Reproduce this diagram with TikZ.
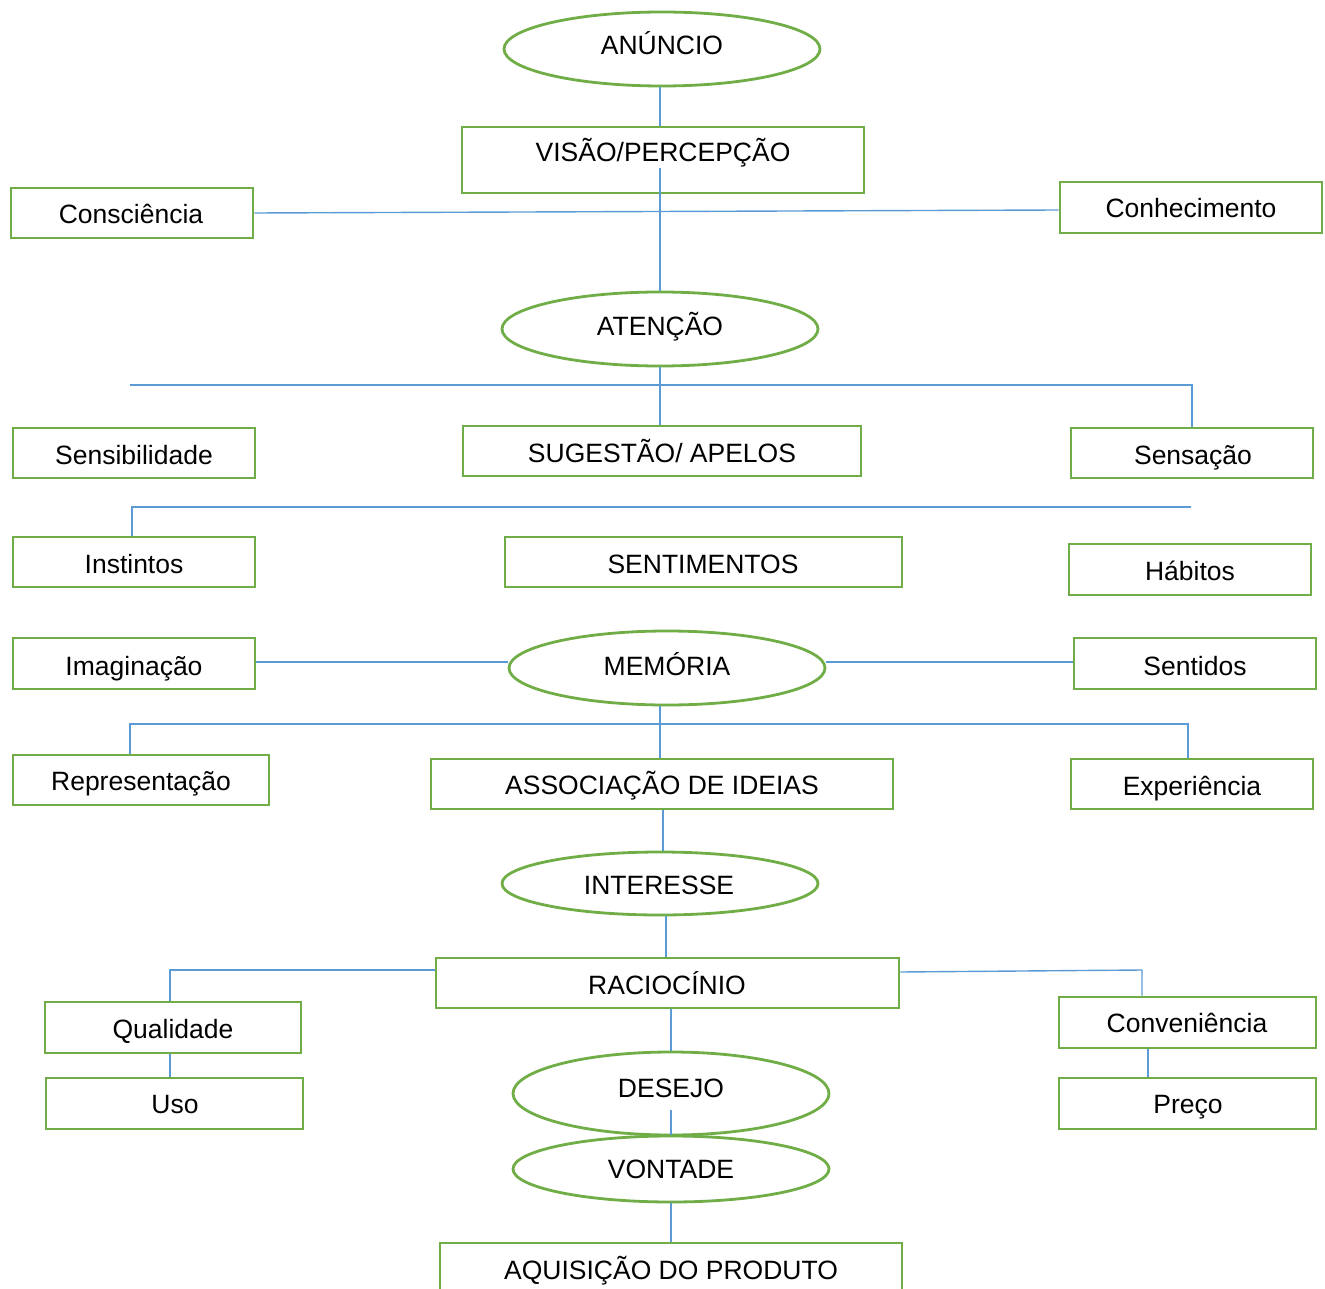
\documentclass[tikz,border=0pt]{standalone}
\usepackage{fontspec}
\setmainfont{Liberation Sans}
\usetikzlibrary{shapes.geometric}
\definecolor{gborder}{HTML}{70AD47}
\definecolor{bline}{HTML}{5B9BD5}
\tikzset{
  gbox/.style={draw=gborder, line width=2.8pt, rectangle, inner sep=0pt, fill=white},
  gell/.style={draw=gborder, line width=2.8pt, ellipse, inner sep=0pt, fill=white},
  lbl/.style={anchor=base, inner sep=0pt, font=\fontsize{26.5}{30}\selectfont},
  conn/.style={draw=bline, line width=1.4pt}
}
\begin{document}
\begin{tikzpicture}[x=1pt,y=-1pt]
\useasboundingbox (0,0) rectangle (1325,1289);
\clip (0,0) rectangle (1325,1289);
% shapes
\node[gell, minimum width=316, minimum height=74] (anuncio) at (662,49) {};
\node[gbox, minimum width=402, minimum height=66] (visao) at (663,160) {};
\node[gbox, minimum width=242, minimum height=50] (consc) at (132,213) {};
\node[gbox, minimum width=262, minimum height=51] (conhec) at (1191,207.5) {};
\node[gell, minimum width=316, minimum height=74] (atencao) at (660,329) {};
\node[gbox, minimum width=242, minimum height=50] (sensib) at (134,453) {};
\node[gbox, minimum width=398, minimum height=50] (sugestao) at (662,451) {};
\node[gbox, minimum width=242, minimum height=50] (sensacao) at (1192,453) {};
\node[gbox, minimum width=242, minimum height=50] (instintos) at (134,562) {};
\node[gbox, minimum width=397, minimum height=50] (sentimentos) at (703.5,562) {};
\node[gbox, minimum width=242, minimum height=51] (habitos) at (1190,569.5) {};
\node[gbox, minimum width=242, minimum height=51] (imaginacao) at (134,663.5) {};
\node[gell, minimum width=316, minimum height=74] (memoria) at (667,668) {};
\node[gbox, minimum width=242, minimum height=51] (sentidos) at (1195,663.5) {};
\node[gbox, minimum width=256, minimum height=50] (repres) at (141,780) {};
\node[gbox, minimum width=462, minimum height=50] (assoc) at (662,784) {};
\node[gbox, minimum width=242, minimum height=50] (exper) at (1192,784) {};
\node[gell, minimum width=316, minimum height=63] (interesse) at (660,883.5) {};
\node[gbox, minimum width=463, minimum height=50] (racioc) at (667.5,983) {};
\node[gbox, minimum width=256, minimum height=51] (qualid) at (173,1027.5) {};
\node[gbox, minimum width=257, minimum height=51] (uso) at (174.5,1103.5) {};
\node[gbox, minimum width=257, minimum height=51] (conven) at (1187.5,1022.5) {};
\node[gbox, minimum width=257, minimum height=51] (preco) at (1187.5,1103.5) {};
\node[gell, minimum width=316, minimum height=83] (desejo) at (671,1093.5) {};
\node[gell, minimum width=316, minimum height=66] (vontade) at (671,1169) {};
\node[gbox, minimum width=462, minimum height=80] (aquis) at (671,1283) {};
% texts
\node[lbl] (tanuncio) at (662,55) {ANÚNCIO};
\node[lbl] (tvisao) at (663,162) {VISÃO/PERCEPÇÃO};
\node[lbl] (tconsc) at (131,224) {Consciência};
\node[lbl] (tconhec) at (1191,218) {Conhecimento};
\node[lbl] (tatencao) at (660,335) {ATENÇÃO};
\node[lbl] (tsensib) at (134,464) {Sensibilidade};
\node[lbl] (tsugestao) at (662,462) {SUGESTÃO/ APELOS};
\node[lbl] (tsensacao) at (1193,464) {Sensação};
\node[lbl] (tinstintos) at (134,573) {Instintos};
\node[lbl] (tsentimentos) at (703,573) {SENTIMENTOS};
\node[lbl] (thabitos) at (1190,580) {Hábitos};
\node[lbl] (timaginacao) at (134,675) {Imaginação};
\node[lbl] (tmemoria) at (667,675) {MEMÓRIA};
\node[lbl] (tsentidos) at (1195,675) {Sentidos};
\node[lbl] (trepres) at (141,790) {Representação};
\node[lbl] (tassoc) at (662,794) {ASSOCIAÇÃO DE IDEIAS};
\node[lbl] (texper) at (1192,795) {Experiência};
\node[lbl] (tinteresse) at (659,894) {INTERESSE};
\node[lbl] (tracioc) at (667,994) {RACIOCÍNIO};
\node[lbl] (tqualid) at (173,1038) {Qualidade};
\node[lbl] (tuso) at (175,1113) {Uso};
\node[lbl] (tconven) at (1187,1032) {Conveniência};
\node[lbl] (tpreco) at (1188,1113) {Preço};
\node[lbl] (tdesejo) at (671,1097) {DESEJO};
\node[lbl] (tvontade) at (671,1178) {VONTADE};
\node[lbl] (taquis) at (671,1279) {AQUISIÇÃO DO PRODUTO};
% coordinates
\coordinate (v1) at (660,0);
\coordinate (b1L) at (130,385);
\coordinate (b2R) at (1191,507);
\coordinate (b3L) at (130,724);
\coordinate (q1) at (170,0);
\coordinate (c1) at (1142,970);
% connectors
\draw[conn] (v1 |- anuncio.south) -- (v1 |- visao.north);
\draw[conn] (v1 |- tvisao.south) -- (v1 |- atencao.north);
\draw[conn] (consc.east) -- ([yshift=-2.5pt]conhec.west);
\draw[conn] (v1 |- atencao.south) -- (v1 |- sugestao.north);
\draw[conn] (b1L) -| (sensacao.north);
\draw[conn] (b2R) -| ([xshift=-2pt]instintos.north);
\draw[conn] ([yshift=1.5pt]imaginacao.east) -- ([yshift=1.5pt]imaginacao.east -| memoria.west);
\draw[conn] ([yshift=1.5pt]memoria.east |- sentidos.west) -- ([yshift=1.5pt]sentidos.west);
\draw[conn] (b3L |- repres.north) -- (b3L) -| ([xshift=-4pt]exper.north);
\draw[conn] (v1 |- assoc.north) -- (v1 |- memoria.south);
\draw[conn] ([xshift=1pt]assoc.south) -- ([xshift=1pt]assoc.south |- interesse.north);
\draw[conn] ([xshift=-1.5pt]racioc.north) -- ([xshift=-1.5pt]racioc.north |- interesse.south);
\draw[conn] ([yshift=13pt]racioc.west) -| (q1 |- qualid.north);
\draw[conn] ([yshift=11pt]racioc.east) -- (c1) -- (c1 |- conven.north);
\draw[conn] (q1 |- qualid.south) -- (q1 |- uso.north);
\draw[conn] ([xshift=-39.5pt]conven.south) -- ([xshift=-39.5pt]preco.north);
\draw[conn] (desejo.north) -- (desejo.north |- racioc.south);
\draw[conn] ([yshift=-13pt]tdesejo.south) -- (tdesejo.south |- vontade.north);
\draw[conn] (vontade.south) -- (vontade.south |- aquis.north);
\end{tikzpicture}
\end{document}
